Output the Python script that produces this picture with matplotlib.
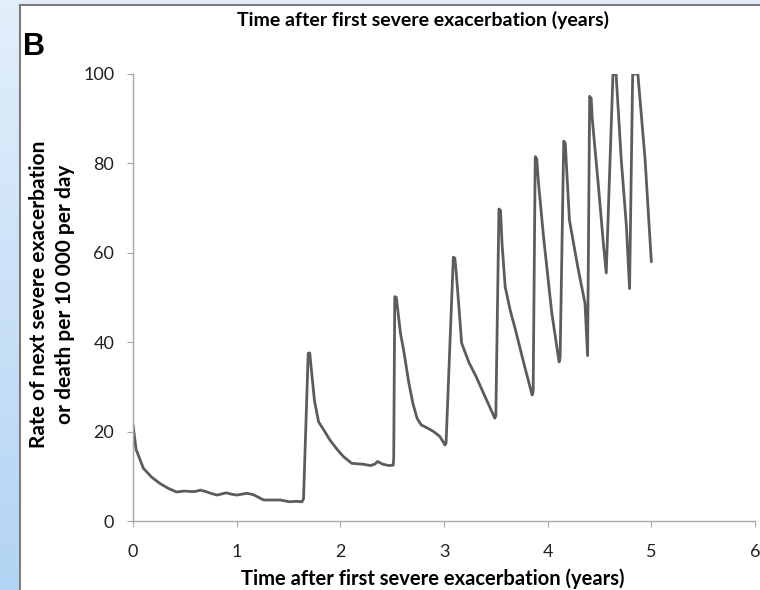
import numpy as np
import matplotlib
matplotlib.use("Agg")
import matplotlib.pyplot as plt
from matplotlib.patches import Rectangle
from matplotlib.lines import Line2D
from matplotlib.colors import LinearSegmentedColormap

# Data
t = [0.0, 0.03, 0.1, 0.18, 0.26, 0.34, 0.42, 0.5, 0.55, 0.6, 0.65, 0.7, 0.75, 0.81, 0.9, 0.95,
     1.0, 1.05, 1.1, 1.16, 1.21, 1.26, 1.35, 1.42, 1.51, 1.58, 1.63, 1.645,
     1.69, 1.705, 1.72, 1.75, 1.79, 1.85, 1.90, 1.97, 2.03, 2.11, 2.16, 2.22, 2.29, 2.33, 2.36, 2.41, 2.47, 2.51, 2.515,
     2.525, 2.54, 2.56, 2.58, 2.61, 2.66, 2.70, 2.74, 2.78, 2.84, 2.90, 2.96, 3.01, 3.02,
     3.09, 3.105, 3.12, 3.15, 3.17, 3.24, 3.31, 3.41, 3.49, 3.50,
     3.53, 3.545, 3.56, 3.59, 3.64, 3.69, 3.77, 3.85, 3.86,
     3.88, 3.895, 3.91, 3.96, 4.04, 4.11, 4.12,
     4.155, 4.17, 4.18, 4.21, 4.29, 4.36, 4.385,
     4.405, 4.42, 4.43, 4.49, 4.54, 4.565,
     4.63, 4.66, 4.71, 4.76, 4.79,
     4.82, 4.87, 4.94, 5.0]
rate = [21.5, 16.0, 11.8, 9.8, 8.4, 7.3, 6.5, 6.7, 6.6, 6.6, 6.9, 6.6, 6.2, 5.8, 6.3, 6.0,
        5.8, 6.0, 6.2, 5.9, 5.3, 4.7, 4.7, 4.7, 4.3, 4.4, 4.3, 5.0,
        37.5, 37.6, 34.0, 27.0, 22.2, 20.0, 18.1, 16.0, 14.4, 12.9, 12.8, 12.7, 12.4, 12.7, 13.3, 12.7, 12.4, 12.5, 14.0,
        50.2, 50.0, 46.0, 42.0, 38.3, 31.0, 26.3, 23.0, 21.5, 20.8, 20.0, 18.9, 17.0, 17.5,
        59.0, 58.8, 55.0, 46.0, 39.8, 35.5, 32.3, 27.1, 23.0, 23.5,
        69.8, 69.5, 62.0, 52.4, 47.0, 42.7, 35.3, 28.2, 29.0,
        81.5, 81.0, 76.0, 63.6, 46.5, 35.6, 36.5,
        85.0, 84.5, 80.0, 67.3, 56.9, 48.7, 37.0,
        95.0, 94.5, 90.0, 74.8, 61.4, 55.5,
        100.0, 100.0, 80.8, 65.8, 52.0,
        100.0, 100.0, 80.8, 58.0]
x_ticks = [0, 1, 2, 3, 4, 5, 6]
y_ticks = [0, 20, 40, 60, 80, 100]
title_text = "Time after first severe exacerbation (years)"
xlabel_text = "Time after first severe exacerbation (years)"
ylabel_text = "Rate of next severe exacerbation\nor death per 10 000 per day"

W, H = 760, 590
fig = plt.figure(figsize=(W / 100, H / 100), dpi=100)

# Background: light-blue gradient frame with a white panel
bg = fig.add_axes([0, 0, 1, 1], zorder=-10)
grad = np.linspace(0, 1, 256).reshape(-1, 1)
cmap = LinearSegmentedColormap.from_list("bl", ["#e3effb", "#b3d4f4"])
bg.imshow(grad, aspect="auto", cmap=cmap, extent=[0, W, H, 0])
bg.add_patch(Rectangle((20, 5), W - 20, H - 5, facecolor="white", edgecolor="none"))
bg.add_line(Line2D([20, 20], [5, H], color="#7d7d7d", lw=1.5))
bg.add_line(Line2D([20, W], [5, 5], color="#7d7d7d", lw=1.5))
bg.set_xlim(0, W)
bg.set_ylim(H, 0)
bg.axis("off")

FONT = "Lato"
ax = fig.add_axes([133 / W, 1 - 521 / H, (755 - 133) / W, (521 - 74) / H])
ax.plot(t, rate, color="#5c5c5c", lw=2.0, solid_joinstyle="round", solid_capstyle="round")
ax.set_xlim(0, 6)
ax.set_ylim(0, 100)
ax.set_xticks(x_ticks)
ax.set_yticks(y_ticks)
for s in ["top", "right"]:
    ax.spines[s].set_visible(False)
for s in ["left", "bottom"]:
    ax.spines[s].set_color("#a6a6a6")
    ax.spines[s].set_linewidth(1.0)
ax.tick_params(axis="both", direction="out", length=4.5, color="#a6a6a6",
               labelsize=13, labelcolor="#222222")
for lab in ax.get_xticklabels() + ax.get_yticklabels():
    lab.set_family(FONT)
ax.tick_params(axis="y", pad=9)
ax.tick_params(axis="x", pad=12)

fig.text(433 / W, 1 - 579 / H, xlabel_text, ha="center", va="center",
         fontsize=14.5, fontweight="bold", family=FONT)
fig.text(52 / W, 1 - 294 / H, ylabel_text, rotation=90, ha="center", va="center",
         fontsize=15.0, fontweight="bold", family=FONT, linespacing=1.4)
fig.text(423 / W, 1 - 20 / H, title_text, ha="center", va="center",
         fontsize=14.0, fontweight="bold", family=FONT)
fig.text(23 / W, 1 - 47 / H, "B", ha="left", va="center", fontsize=22,
         fontweight="bold", family="Liberation Sans")

fig.savefig("out.png", dpi=100)
